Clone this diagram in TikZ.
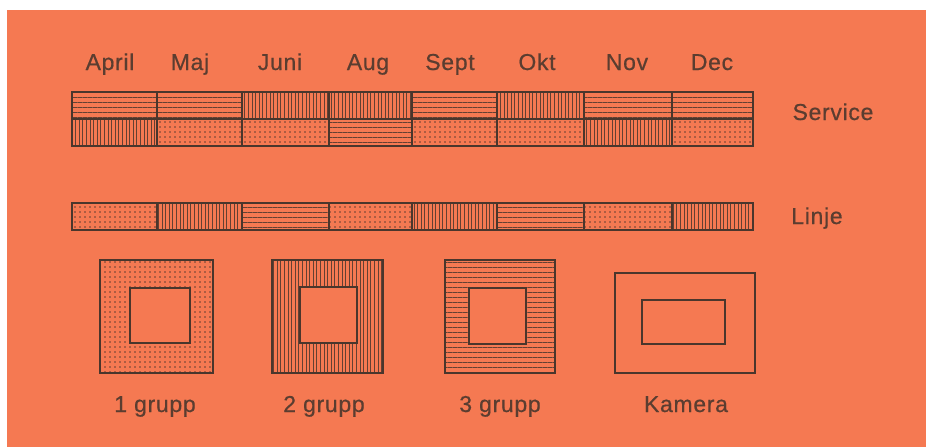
\documentclass[tikz,border=0pt]{standalone}
\usepackage{fontspec}
\setmainfont{Liberation Sans}[LetterSpace=3,FakeBold=0.6]
\usetikzlibrary{patterns.meta}
\definecolor{bg}{RGB}{245,121,82}
\definecolor{ink}{RGB}{74,54,44}
\colorlet{pat}{ink!85!bg}
\tikzset{
  cell/.style={draw=ink, line width=1.5pt},
  hl/.style={pattern={Lines[angle=0,distance=5pt,line width=0.7pt]}, pattern color=pat},
  vl/.style={pattern={Lines[angle=90,distance=3.6pt,line width=0.7pt]}, pattern color=pat},
  dt/.style={pattern={Dots[distance=5pt,radius=0.8pt]}, pattern color=pat},
  lbl/.style={font=\fontsize{23}{26}\selectfont, text=ink!90!bg, anchor=base, inner sep=0pt},
}
\begin{document}
\begin{tikzpicture}[x=1pt,y=-1pt]
\useasboundingbox (0,0) rectangle (926,447);
\fill[white] (0,0) rectangle (926,447);
\fill[bg] (7,10) rectangle (926,447);
% months
\foreach \n/\x/\t in {m1/110/April, m2/190/Maj, m3/280/Juni, m4/368/Aug, m5/450/Sept, m6/537/Okt, m7/627/Nov, m8/712/Dec}
  \node[lbl] (\n) at (\x,70) {\t};
% bars
\foreach \a/\b/\t/\u/\l in {72/157/hl/vl/dt, 157/242/hl/dt/vl, 242/329/vl/dt/hl, 329/412/vl/hl/dt, 412/497/hl/dt/vl, 497/584/vl/dt/hl, 584/672/hl/vl/dt, 672/753/hl/dt/vl}{
  \draw[cell,\t] (\a,92) rectangle (\b,119);
  \draw[cell,\u] (\a,119) rectangle (\b,146);
  \draw[cell,\l] (\a,203) rectangle (\b,230);
}
\node[lbl] (service) at (833,120) {Service};
\node[lbl] (linje) at (817,224) {Linje};
% squares
\draw[cell,dt,even odd rule] (100,260) rectangle (213,373) (130,288) rectangle (190,343);
\draw[cell,vl,even odd rule] (272,260) rectangle (383,373) (300,287) rectangle (357,343);
\draw[cell,hl,even odd rule] (445,260) rectangle (555,373) (469,288) rectangle (526,344);
\draw[cell] (615,273) rectangle (755,373) (642,300) rectangle (725,344);
\node[lbl] (g1) at (155,412) {1 grupp};
\node[lbl] (g2) at (324,412) {2 grupp};
\node[lbl] (g3) at (500,412) {3 grupp};
\node[lbl] (kam) at (686,412) {Kamera};
\end{tikzpicture}
\end{document}
